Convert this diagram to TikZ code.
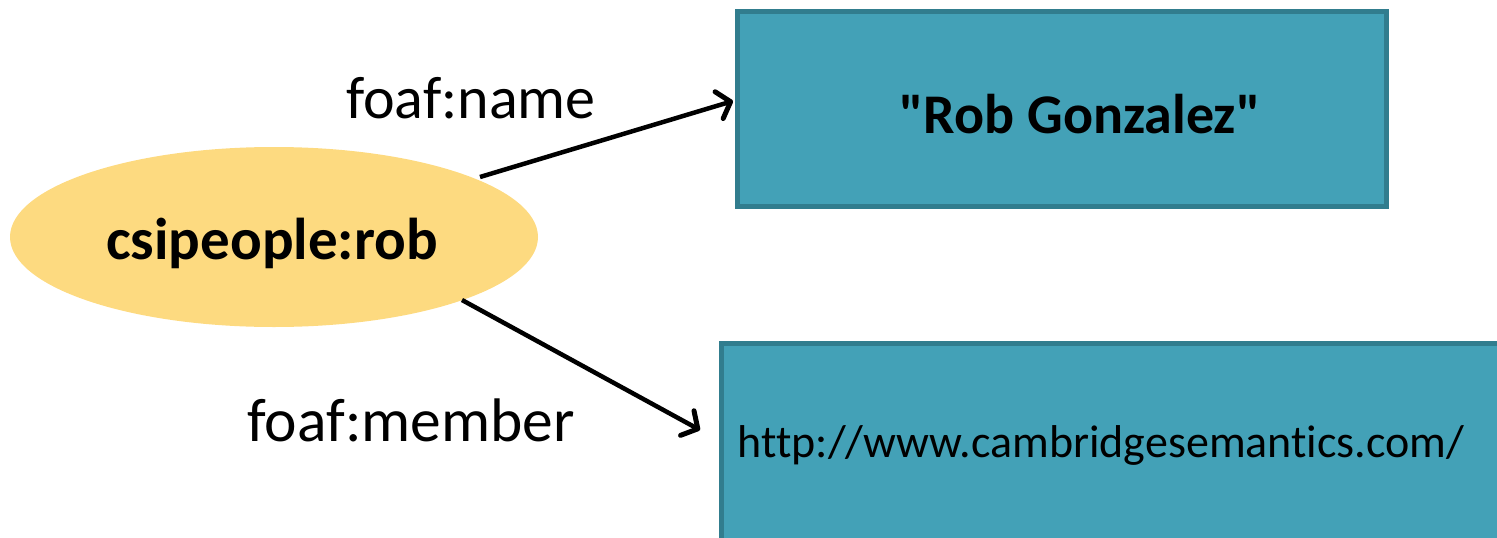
\documentclass[tikz,border=0pt]{standalone}
\usepackage{fontspec}
\setmainfont{Carlito}[Ligatures={TeX,NoCommon}]
\newfontfamily\rawfont{Carlito}[Ligatures=NoCommon]
\usetikzlibrary{shapes.geometric,arrows.meta}
\definecolor{tealfill}{HTML}{43A1B7}
\definecolor{tealline}{HTML}{317D8E}
\definecolor{yel}{HTML}{FDDA80}
\tikzset{
  box/.style={draw=tealline, line width=5pt, fill=tealfill, inner sep=0pt},
  conn/.style={line width=4.5pt, -{Straight Barb[length=12pt,width=28pt,line width=5pt,round]}},
  lbl/.style={inner sep=0pt},
}
\begin{document}
\begin{tikzpicture}[x=1pt,y=-1pt]
\useasboundingbox (0,0) rectangle (1497,538);
\node[ellipse, fill=yel, minimum width=528pt, minimum height=180pt, inner sep=0pt] (rob) at (274,237) {};
\node[font=\fontsize{59}{61}\selectfont\bfseries, inner sep=0pt] (robt) at (272,243) {csipeople:rob};
\draw[box] (737,11) rectangle (1386,206);
\coordinate (b1w) at (733,101);
\node[font=\rawfont\fontsize{56}{58}\selectfont\bfseries, inner sep=0pt] (namet) at (1080,114) {"Rob Gonzalez"};
\draw[box] (721,343) rectangle (1500,545);
\coordinate (b2w) at (700,430);
\node[font=\fontsize{46}{48}\selectfont, inner sep=0pt] (urlt) at (1101,445) {http://www.cambridgesemantics.com/};
\coordinate (s1) at (480,177);
\coordinate (s2) at (462,300);
\draw[conn] (s1) -- (b1w);
\draw[conn] (s2) -- (b2w);
\node[lbl, font=\fontsize{60}{62}\selectfont] (l1) at (471,98) {foaf:name};
\node[lbl, font=\fontsize{61.5}{63}\selectfont] (l2) at (411,420) {foaf:member};
\end{tikzpicture}
\end{document}
